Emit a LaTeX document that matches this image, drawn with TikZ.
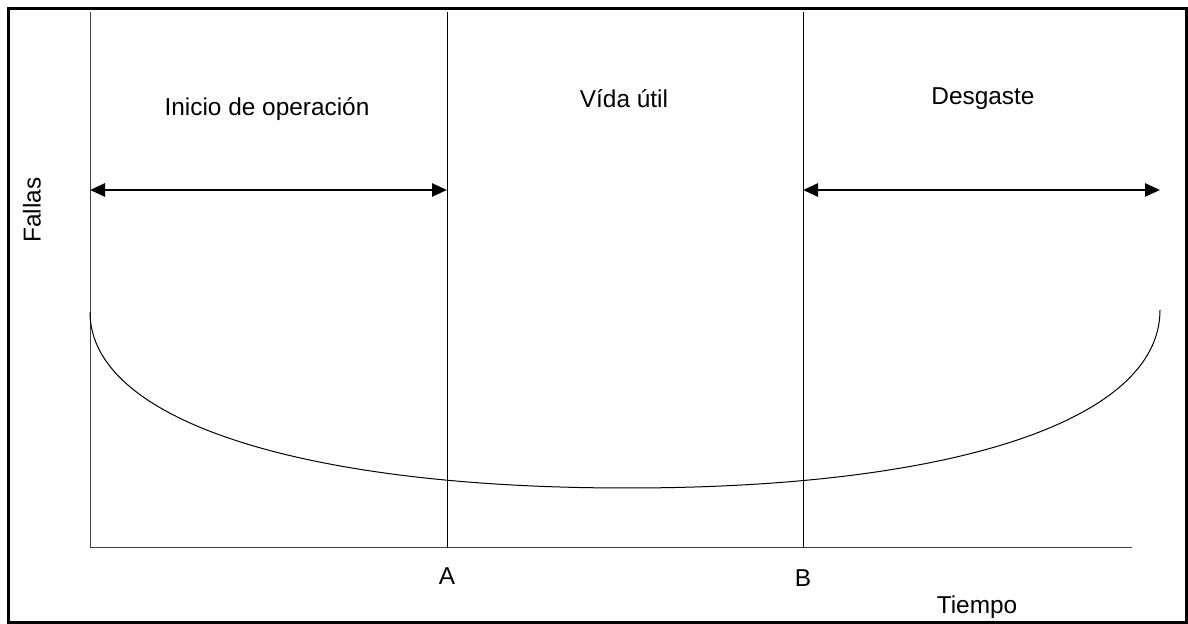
\documentclass[tikz,border=0pt]{standalone}
\usepackage{fontspec}
\setmainfont{Liberation Sans}
\usetikzlibrary{arrows.meta}
\tikzset{
    % Lines
    frame line/.style={line width=1.5pt},
    axis line/.style={line width=.5pt, black!75},
    phase line/.style={line width=.5pt},
    curve line/.style={line width=.5pt},
    %
    % Arrows
    arrow tip/.tip={Triangle[length=7.5pt,width=6.5pt]},
    darr/.style={arrow tip-arrow tip, line width=1.3pt},
    %
    % Text
    label/.style={inner sep=0pt, font=\fontsize{12.2}{14}\selectfont}
}

\begin{document}
\begin{tikzpicture}[x=.5pt,y=-.5pt]
    \useasboundingbox (0,0) rectangle (1188,624);
    \draw[frame line] (8,9) rectangle (1186,622);
    % axes
    \coordinate (O) at (90,548);
    \coordinate (ytop) at (90,12);
    \coordinate (xend) at (1132,548);
    \draw[axis line] (ytop) -- (O) -- (xend);
    % phase limits
    \coordinate (Atop) at (447,12);
    \coordinate (Abot) at (447,548);
    \coordinate (Btop) at (803,12);
    \coordinate (Bbot) at (803,548);
    \draw[phase line] (Atop) -- (Abot);
    \draw[phase line] (Btop) -- (Bbot);
    % phase arrows
    \coordinate (l1) at (90,190);
    \coordinate (r1) at (447,190);
    \coordinate (l3) at (803,190);
    \coordinate (r3) at (1160,190);
    \draw[darr] (l1) -- (r1);
    \draw[darr] (l3) -- (r3);
    % bathtub curve
    \coordinate (c0) at (90,312);
    \coordinate (cmin) at (627,488);
    \coordinate (c1) at (1160,310);
    \draw[curve line] (c0) .. controls (90,420) and (300,488) .. (cmin)
        .. controls (955,488) and (1160,420) .. (c1);
    % labels
    \node[label] (inicio) at (267,109) {Inicio de operación};
    \node[label] (vida) at (624,99) {Vída útil};
    \node[label] (desgaste) at (983,99) {Desgaste};
    \node[label, rotate=90] (fallas) at (32,210) {Fallas};
    \node[label] (A) at (447,576) {A};
    \node[label] (B) at (803,578) {B};
    \node[label] (tiempo) at (977,607) {Tiempo};
\end{tikzpicture}
\end{document}
